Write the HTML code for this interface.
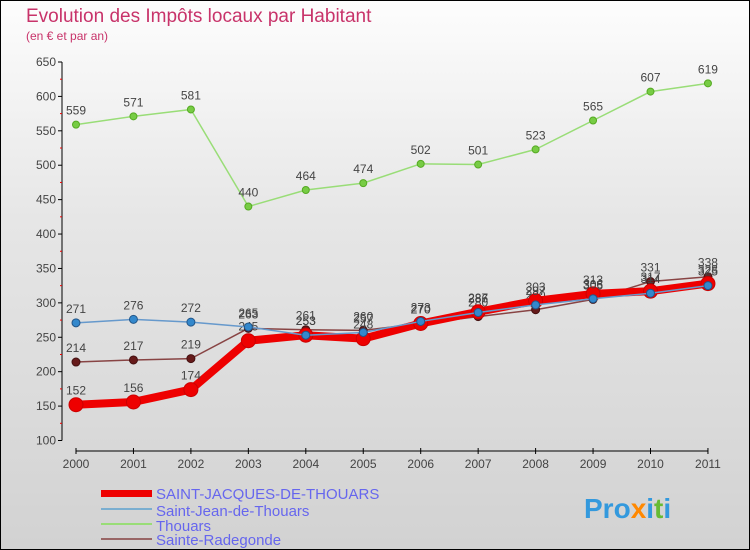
<!DOCTYPE html>
<html><head><meta charset="utf-8"><style>
body{margin:0;}
#c{width:750px;height:550px;position:relative;box-sizing:border-box;border:1px solid #000;background:linear-gradient(#fdfdfd,#e6e6e6 40%,#d2d2d2);font-family:"Liberation Sans",sans-serif;overflow:hidden}
svg text{font-family:"Liberation Sans",sans-serif}
</style></head><body>
<div id="c">
<svg id="s" width="750" height="550">
<text x="25" y="21" font-size="19" fill="#c8336a">Evolution des Impôts locaux par Habitant</text>
<text x="25" y="39" font-size="12" fill="#c8336a">(en € et par an)</text>
<g id="axes"></g><g id="series"></g>
<g>
<rect x="100" y="489" width="51" height="7" fill="#ee0000"/>
<text x="155" y="498" font-size="15" fill="#6666ee">SAINT-JACQUES-DE-THOUARS</text>
<rect x="100" y="507" width="51" height="2" fill="#7aaed0"/>
<text x="155" y="515" font-size="15" fill="#6666ee">Saint-Jean-de-Thouars</text>
<rect x="100" y="522" width="51" height="2" fill="#99dd77"/>
<text x="155" y="530" font-size="15" fill="#6666ee">Thouars</text>
<rect x="100" y="537" width="51" height="2" fill="#996666"/>
<text x="155" y="544" font-size="15" fill="#6666ee">Sainte-Radegonde</text>
</g>
<text x="583" y="517" font-size="28" font-weight="bold" fill="#3399dd">Pro<tspan fill="#ff8800">x</tspan>i<tspan fill="#66bb33">t</tspan>i</text>
</svg>
</div>
<script>
const years=["2000","2001","2002","2003","2004","2005","2006","2007","2008","2009","2010","2011"];
const yTicks=[100,150,200,250,300,350,400,450,500,550,600,650];
const stJacques=[152,156,174,245,253,248,270,287,303,313,317,328];
const stJean=[271,276,272,265,253,257,273,286,297,306,314,325];
const thouars=[559,571,581,440,464,474,502,501,523,565,607,619];
const radegonde=[214,217,219,263,261,260,270,280,290,305,331,338];
const NS="http://www.w3.org/2000/svg";
const X=i=>75+i*57.45;
const Y=v=>439.5-(v-100)*0.6882;
function mk(t,a,p){const e=document.createElementNS(NS,t);for(const k in a)e.setAttribute(k,a[k]);p.appendChild(e);return e;}
const ax=document.getElementById('axes');
let yl=mk('line',{x1:61,y1:Y(650),x2:61,y2:Y(100),stroke:'#000'},ax);


yTicks.forEach(v=>{
 mk('line',{x1:57,y1:Y(v),x2:61,y2:Y(v),stroke:'#000'},ax);
 if(v<650)mk('line',{x1:59,y1:Y(v+25),x2:61,y2:Y(v+25),stroke:'#e00'},ax);
 const t=mk('text',{x:55,y:Y(v)+4,'font-size':12,fill:'#444','text-anchor':'end'},ax);t.textContent=v;
 
 
});
let xl=mk('line',{x1:X(0),y1:450,x2:X(11),y2:450,stroke:'#000'},ax);


years.forEach((y,i)=>{
 mk('line',{x1:X(i),y1:447,x2:X(i),y2:453,stroke:'#000'},ax);
 const t=mk('text',{x:X(i),y:467,'font-size':12,fill:'#444','text-anchor':'middle'},ax);t.textContent=y;
 
 
});
const sg=document.getElementById('series');
function series(name,data,color,w,r,fill,stroke){
 const g=mk('g',{},sg);
 
 
 const pl=mk('polyline',{points:data.map((v,i)=>X(i)+','+Y(v)).join(' '),fill:'none',stroke:color,'stroke-width':w,'stroke-linejoin':'round'},g);
 
 
 data.forEach((v,i)=>{
  const c=mk('circle',{cx:X(i),cy:Y(v),r:r,fill:fill,stroke:stroke,'stroke-width':1},g);
  
  
  const t=mk('text',{x:X(i),y:Y(v)-10,'font-size':12,fill:'#444','text-anchor':'middle'},g);t.textContent=v;
  
  
 });
}
series('thouars',thouars,'#99dd77',1.5,3.5,'#77cc44','#55aa22');
series('sainte-radegonde',radegonde,'#884444',1.5,4,'#661a1a','#441010');
series('saint-jacques',stJacques,'#ee0000',8,7,'#ee0000','#cc0000');
series('saint-jean',stJean,'#6699cc',1.5,4,'#3388cc','#225588');
</script>
</body></html>
